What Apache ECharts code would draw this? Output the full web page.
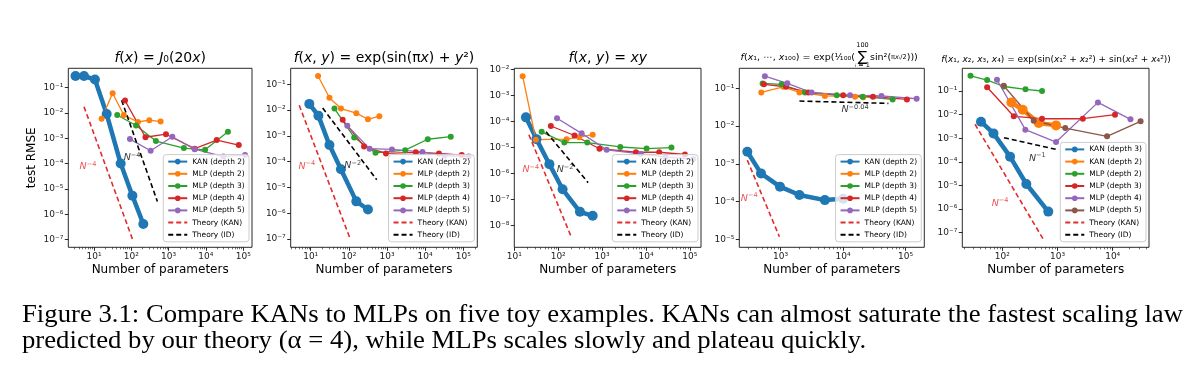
<!DOCTYPE html>
<html><head><meta charset="utf-8">
<script src="https://cdn.jsdelivr.net/npm/echarts@6/dist/echarts.min.js"></script>
<style>html,body{margin:0;padding:0;background:#fff}#c{width:1199px;height:370px}</style>
</head><body><div id="c"></div>
<script>
// ---------------- data ([params, test RMSE]) ----------------
// Panel 1: f(x) = J0(20x)
const p1_KAN  = [[3.2,0.29],[5.4,0.29],[10.6,0.21],[21.9,0.0091],[52,1.0e-4],[107,5.4e-6],[210,4.1e-7]];
const p1_MLP2 = [[16,0.0059],[31.6,0.06],[63,0.0083],[151,0.0044],[304,0.0052],[611,0.0046]];
const p1_MLP3 = [[42,0.0083],[134,0.0032],[457,7.8e-4],[2570,4.1e-4],[9500,3.5e-4],[39000,1.8e-3]];
const p1_MLP4 = [[68,0.031],[240,0.0011],[850,0.00145],[5000,3.9e-4],[19500,8.5e-4],[76000,5.4e-4]];
const p1_MLP5 = [[92,9.3e-4],[330,3.2e-4],[1260,1.15e-3],[5000,3.7e-4],[29500,1.9e-4],[112000,2.2e-4]];
const p1_TheoryKAN = [[5.4,0.0178],[107,1.05e-7]];
const p1_TheoryID  = [[55,0.032],[500,3.2e-6]];
const p1_noteKAN = [6.9,7.4e-5], p1_noteID = [105,1.66e-4];
// Panel 2: f(x,y) = exp(sin(pi x) + y^2)
const p2_KAN  = [[9.2,0.0174],[15.9,0.0061],[31,4.4e-4],[62,5.1e-5],[157,2.9e-6],[317,1.4e-6]];
const p2_MLP2 = [[15.6,0.21],[31,0.030],[62,0.0115],[157,0.0076],[317,0.0044],[630,0.0058]];
const p2_MLP3 = [[42,0.0115],[138,8.7e-4],[500,2.2e-4],[3000,2.8e-4],[11700,7.4e-4],[47000,9.3e-4]];
const p2_MLP4 = [[69,0.0042],[250,3.9e-4],[940,2.1e-4],[5700,2.3e-4],[23000,2.1e-4],[91000,1.8e-4]];
const p2_MLP5 = [[91,0.0025],[350,3.2e-4],[1350,3.0e-4],[8500,2.4e-4],[32000,1.7e-4],[138000,1.6e-4]];
const p2_TheoryKAN = [[5,0.0154],[107,1.07e-7]];
const p2_TheoryID  = [[20.6,0.012],[537,2e-5]];
const p2_noteKAN = [7.9,6.5e-5], p2_noteID = [126,6.8e-5];
// Panel 3: f(x,y) = xy
const p3_KAN  = [[18.4,1.44e-4],[32,2.1e-5],[63,2.3e-6],[126,2.5e-7],[313,3.4e-8],[610,2.4e-8]];
const p3_MLP2 = [[15.5,5.5e-3],[31,2.0e-5],[155,2.1e-5],[300,2.5e-5],[610,3.1e-5]];
const p3_MLP3 = [[42,4.0e-5],[138,1.55e-5],[460,1.55e-5],[2600,1.05e-5],[10300,9.1e-6],[38000,1.0e-5]];
const p3_MLP4 = [[68,6.7e-5],[235,2.9e-5],[870,9e-6],[5900,6.6e-6],[20000,6.6e-6],[77000,5.4e-6]];
const p3_MLP5 = [[94,1.33e-4],[342,3.5e-5],[1270,8.2e-6],[7600,5.7e-6],[28000,4.3e-6],[120000,3.6e-6]];
const p3_TheoryKAN = [[21.5,3.1e-5],[204,3.3e-9]];
const p3_TheoryID  = [[53,4e-5],[480,4.5e-7]];
const p3_noteKAN = [23.7,1.38e-6], p3_noteID = [143,1.38e-6];
// Panel 4: 100-dimensional
const p4_KAN  = [[293,2.1e-3],[485,5.6e-4],[975,2.5e-4],[2000,1.5e-4],[5100,1.1e-4],[10000,1.2e-4]];
const p4_MLP2 = [[490,0.078],[1100,0.11],[2000,0.078],[5100,0.063],[15500,0.06],[21000,0.058]];
const p4_MLP3 = [[515,0.135],[1040,0.128],[2450,0.077],[7900,0.066],[20500,0.06],[62000,0.051]];
const p4_MLP4 = [[540,0.128],[1220,0.11],[2770,0.078],[10000,0.066],[30000,0.06],[105000,0.051]];
const p4_MLP5 = [[560,0.21],[1280,0.136],[3130,0.077],[12900,0.066],[41000,0.063],[150000,0.053]];
const p4_TheoryKAN = [[293,1.26e-3],[955,1.18e-5]];
const p4_TheoryID  = [[2000,0.046],[53000,0.040]];
const p4_noteKAN = [314,1.23e-4], p4_noteID = [15500,0.027];
// Panel 5: 4-dimensional
const p5_KAN3 = [[41,5.0e-3],[69,1.6e-3],[138,1.66e-4],[272,1.15e-5],[680,7.8e-7]];
const p5_KAN2 = [[146,0.033],[234,0.016],[456,0.0044],[940,0.0035]];
const p5_MLP2 = [[26.5,0.44],[53,0.29],[107,0.155],[263,0.118],[524,0.1]];
const p5_MLP3 = [[53,0.144],[161,0.0085],[524,0.0067],[2870,0.0067],[11000,0.0099]];
const p5_MLP4 = [[80,0.30],[261,0.0023],[940,6.9e-4],[5400,0.033],[21000,0.0063]];
const p5_MLP5 = [[106,0.167],[370,0.0055],[1380,0.0027],[7900,0.0012],[32000,0.0052]];
const p5_TheoryKAN = [[32,0.0039],[553,5.2e-8]];
const p5_TheoryID  = [[107,1.05e-3],[1030,3.2e-4]];
const p5_noteKAN = [91,1.7e-6], p5_noteID = [430,1.4e-4];

// tick values
const xTicks_A = [10,100,1e3,1e4,1e5];
const yTicks_A = [1e-7,1e-6,1e-5,1e-4,1e-3,1e-2,1e-1];
const yTicks_3 = [1e-8,1e-7,1e-6,1e-5,1e-4,1e-3,1e-2];
const xTicks_4 = [1e3,1e4,1e5];
const yTicks_4 = [1e-5,1e-4,1e-3,1e-2,1e-1];
const xTicks_5 = [100,1e3,1e4];

const CAP1 = 'Figure 3.1: Compare KANs to MLPs on five toy examples. KANs can almost saturate the fastest scaling law';
const CAP2 = 'predicted by our theory (\u03b1 = 4), while MLPs scales slowly and plateau quickly.';

// ---------------- styling / layout ----------------
const FONT = 'DejaVu Sans';
const COL = {blue:'#1f77b4', orange:'#ff7f0e', green:'#2ca02c', red:'#d62728',
             purple:'#9467bd', brown:'#8c564b', tred:'#e32b2b', black:'#000'};

const panels = [
  {grid:[68.3,68.3,183.7,179], x:[2.05,1.72e5], y:[4.9e-8,0.585], xt:xTicks_A, yt:yTicks_A,
   series:[['KAN (depth 2)',p1_KAN,'blue','kan'],['MLP (depth 2)',p1_MLP2,'orange','mlp'],
           ['MLP (depth 3)',p1_MLP3,'green','mlp'],['MLP (depth 4)',p1_MLP4,'red','mlp'],
           ['MLP (depth 5)',p1_MLP5,'purple','mlp'],['Theory (KAN)',p1_TheoryKAN,'tred','th'],
           ['Theory (ID)',p1_TheoryID,'black','th']],
   notes:[[p1_noteKAN,'\u22124','tred'],[p1_noteID,'\u22124','black']]},
  {grid:[290.7,68.3,186.6,179], x:[2.99,2.33e5], y:[4.8e-8,0.417], xt:xTicks_A, yt:yTicks_A,
   series:[['KAN (depth 2)',p2_KAN,'blue','kan'],['MLP (depth 2)',p2_MLP2,'orange','mlp'],
           ['MLP (depth 3)',p2_MLP3,'green','mlp'],['MLP (depth 4)',p2_MLP4,'red','mlp'],
           ['MLP (depth 5)',p2_MLP5,'purple','mlp'],['Theory (KAN)',p2_TheoryKAN,'tred','th'],
           ['Theory (ID)',p2_TheoryID,'black','th']],
   notes:[[p2_noteKAN,'\u22124','tred'],[p2_noteID,'\u22122','black']]},
  {grid:[514.3,68.3,186.7,179], x:[10,1.79e5], y:[1.48e-9,0.011], xt:xTicks_A, yt:yTicks_3,
   series:[['KAN (depth 2)',p3_KAN,'blue','kan'],['MLP (depth 2)',p3_MLP2,'orange','mlp'],
           ['MLP (depth 3)',p3_MLP3,'green','mlp'],['MLP (depth 4)',p3_MLP4,'red','mlp'],
           ['MLP (depth 5)',p3_MLP5,'purple','mlp'],['Theory (KAN)',p3_TheoryKAN,'tred','th'],
           ['Theory (ID)',p3_TheoryID,'black','th']],
   notes:[[p3_noteKAN,'\u22124','tred'],[p3_noteID,'\u22122','black']]},
  {grid:[739.3,68.3,185,179], x:[218,1.99e5], y:[6.2e-6,0.339], xt:xTicks_4, yt:yTicks_4,
   series:[['KAN (depth 2)',p4_KAN,'blue','kan'],['MLP (depth 2)',p4_MLP2,'orange','mlp'],
           ['MLP (depth 3)',p4_MLP3,'green','mlp'],['MLP (depth 4)',p4_MLP4,'red','mlp'],
           ['MLP (depth 5)',p4_MLP5,'purple','mlp'],['Theory (KAN)',p4_TheoryKAN,'tred','th'],
           ['Theory (ID)',p4_TheoryID,'black','th']],
   notes:[[p4_noteKAN,'\u22124','tred'],[p4_noteID,'\u22120.04','black']]},
  {grid:[962.3,68.3,186.7,179], x:[18.8,4.55e4], y:[2.4e-8,0.916], xt:xTicks_5, yt:yTicks_A,
   series:[['KAN (depth 3)',p5_KAN3,'blue','kan'],['KAN (depth 2)',p5_KAN2,'orange','kan'],
           ['MLP (depth 2)',p5_MLP2,'green','mlp'],['MLP (depth 3)',p5_MLP3,'red','mlp'],
           ['MLP (depth 4)',p5_MLP4,'purple','mlp'],['MLP (depth 5)',p5_MLP5,'brown','mlp'],
           ['Theory (KAN)',p5_TheoryKAN,'tred','th'],['Theory (ID)',p5_TheoryID,'black','th']],
   notes:[[p5_noteKAN,'\u22124','tred'],[p5_noteID,'\u22121','black']]}
];

const SUP = {'0':'\u2070','1':'\u00b9','2':'\u00b2','3':'\u00b3','4':'\u2074','5':'\u2075','6':'\u2076','7':'\u2077','8':'\u2078','9':'\u2079','-':'\u207b'};
function pow10Label(v){
  const e = Math.round(Math.log10(v));
  return '10' + String(e).split('').map(c=>SUP[c]).join('');
}
function minorTicks(lo, hi){
  const out=[];
  for(let d=Math.floor(Math.log10(lo)); d<=Math.ceil(Math.log10(hi)); d++)
    for(let k=2;k<=9;k++){ const v=k*Math.pow(10,d); if(v>lo && v<hi) out.push(v); }
  return out;
}

const grids=[], xAxes=[], xMinor=[], yAxes=[], series=[], legends=[];
panels.forEach((p,i)=>{
  const [l,t,w,h] = p.grid;
  grids.push({left:l, top:t, width:w, height:h, show:true, borderColor:'#111', borderWidth:0.9, backgroundColor:'#fff'});
  xAxes.push({type:'log', gridIndex:i, min:p.x[0], max:p.x[1], position:'bottom',
    axisLine:{show:false}, splitLine:{show:false},
    axisTick:{show:true, length:3.5, customValues:p.xt, lineStyle:{color:'#111', width:0.9}},
    axisLabel:{customValues:p.xt, formatter:pow10Label, fontFamily:FONT, fontSize:9, color:'#222', margin:5},
    name:'Number of parameters', nameLocation:'middle', nameGap:17,
    nameTextStyle:{fontFamily:FONT, fontSize:12, color:'#000'}});
  xMinor.push({type:'log', gridIndex:i, min:p.x[0], max:p.x[1], position:'bottom',
    axisLine:{show:false}, splitLine:{show:false}, axisLabel:{show:false},
    axisTick:{show:true, length:2, customValues:minorTicks(p.x[0],p.x[1]), lineStyle:{color:'#111', width:0.6}}});
  const ya = {type:'log', gridIndex:i, min:p.y[0], max:p.y[1],
    axisLine:{show:false}, splitLine:{show:false},
    axisTick:{show:true, length:3.5, customValues:p.yt, lineStyle:{color:'#111', width:0.9}},
    axisLabel:{customValues:p.yt, formatter:pow10Label, fontFamily:FONT, fontSize:9, color:'#222', margin:5}};
  if(i===0){ Object.assign(ya,{name:'test RMSE', nameLocation:'middle', nameGap:30,
    nameTextStyle:{fontFamily:FONT, fontSize:12, color:'#000'}}); }
  yAxes.push(ya);

  const legendData=[];
  p.series.forEach(([name,data,c,kind])=>{
    const nm = 'p'+i+'|'+name;
    const color = COL[c];
    const s = {type:'line', name:nm, xAxisIndex:i, yAxisIndex:i, data:data, silent:true,
      animation:false, itemStyle:{color:color}};
    if(kind==='kan'){ Object.assign(s,{symbol:'circle', symbolSize:10, lineStyle:{color:color,width:4.5}}); legendData.push(nm); }
    else if(kind==='mlp'){ Object.assign(s,{symbol:'circle', symbolSize:6, lineStyle:{color:color,width:1.3}}); legendData.push(nm); }
    else { Object.assign(s,{symbol:'none', lineStyle:{color:color,width:1.6,type:[5,3]}});
           legendData.push({name:nm, itemStyle:{opacity:0}}); }
    series.push(s);
  });
  p.notes.forEach(([pos,exp,c])=>{
    const color = COL[c];
    series.push({type:'scatter', xAxisIndex:i, yAxisIndex:i, silent:true, animation:false,
      symbolSize:1, itemStyle:{color:'rgba(0,0,0,0)'}, z:5, data:[{value:pos}],
      label:{show:true, position:'inside', formatter:'{n|N}{s|'+exp+'}',
        rich:{n:{fontFamily:FONT, fontStyle:'italic', fontSize:9.5, color:color},
              s:{fontFamily:FONT, fontSize:6.5, color:color, padding:[0,0,6,0]}}}});
  });
  legends.push({data:legendData, formatter:n=>n.split('|')[1], orient:'vertical', selectedMode:false,
    right:1199-(l+w-3), bottom:370-(t+h-5.5),
    itemWidth:19, itemHeight:7, itemGap:4.2, itemTextGap:6, padding:[3,4,3,4],
    backgroundColor:'rgba(255,255,255,0.8)', borderColor:'#ccc', borderWidth:1, borderRadius:3,
    textStyle:{fontFamily:FONT, fontSize:7.5, color:'#000'}});
});

// ---------------- titles & caption ----------------
function italic(sz){ return {i:{fontStyle:'italic', fontSize:sz, fontFamily:FONT, fill:'#000'},
                             s:{fontSize:sz*0.7, fontFamily:FONT, fill:'#000'},
                             si:{fontStyle:'italic', fontSize:sz*0.7, fontFamily:FONT, fill:'#000'}}; }
function ttl(x,y,text,sz,align){
  return {type:'text', x:x, y:y, silent:true, z:10,
    style:{text:text, fontFamily:FONT, fontSize:sz, fill:'#000', align:align||'center', textAlign:align||'center',
      verticalAlign:'middle', textVerticalAlign:'middle', rich:italic(sz)}};
}
const ctx = document.createElement('canvas').getContext('2d');
ctx.font = '25px "Liberation Serif"';
const capScale = (1183-22)/ctx.measureText(CAP1).width;
function cap(y,text){
  return {type:'text', x:22, y:y, scaleX:capScale, silent:true,
    style:{text:text, fontFamily:'Liberation Serif', fontSize:25, fill:'#000', align:'left', textAlign:'left',
      verticalAlign:'middle', textVerticalAlign:'middle'}};
}
const graphics = [
  ttl(160.2,58.5,'{i|f}({i|x}) = {i|J}\u2080(20{i|x})',14),
  ttl(384,58.5,'{i|f}({i|x}, {i|y}) = exp(sin(\u03c0{i|x}) + {i|y}\u00b2)',14),
  ttl(607.7,58.5,'{i|f}({i|x}, {i|y}) = {i|xy}',14),
  ttl(855,57.5,'{i|f}({i|x}\u2081, \u22ef, {i|x}\u2081\u2080\u2080) = exp(\u00b9\u2044\u2081\u2080\u2080(',9.5,'right'),
  ttl(862.5,57,'\u2211',14),
  ttl(862.5,45.5,'100',6.5),
  ttl(862.5,65.5,'{si|i} = 1',6.5),
  ttl(870,57.5,'sin\u00b2({s|\u03c0}{si|x}{s|\u1d62/2})))',9.5,'left'),
  ttl(1056,59.5,'{i|f}({i|x}\u2081, {i|x}\u2082, {i|x}\u2083, {i|x}\u2084) = exp(sin({i|x}\u2081\u00b2 + {i|x}\u2082\u00b2) + sin({i|x}\u2083\u00b2 + {i|x}\u2084\u00b2))',9),
  cap(315,CAP1),
  cap(341,CAP2)
];

const chart = echarts.init(document.getElementById('c'), null, {renderer:'canvas'});
chart.setOption({
  animation:false, backgroundColor:'#fff',
  grid:grids, xAxis:xAxes.concat(xMinor), yAxis:yAxes, series:series, legend:legends,
  graphic:graphics
});
</script></body></html>
